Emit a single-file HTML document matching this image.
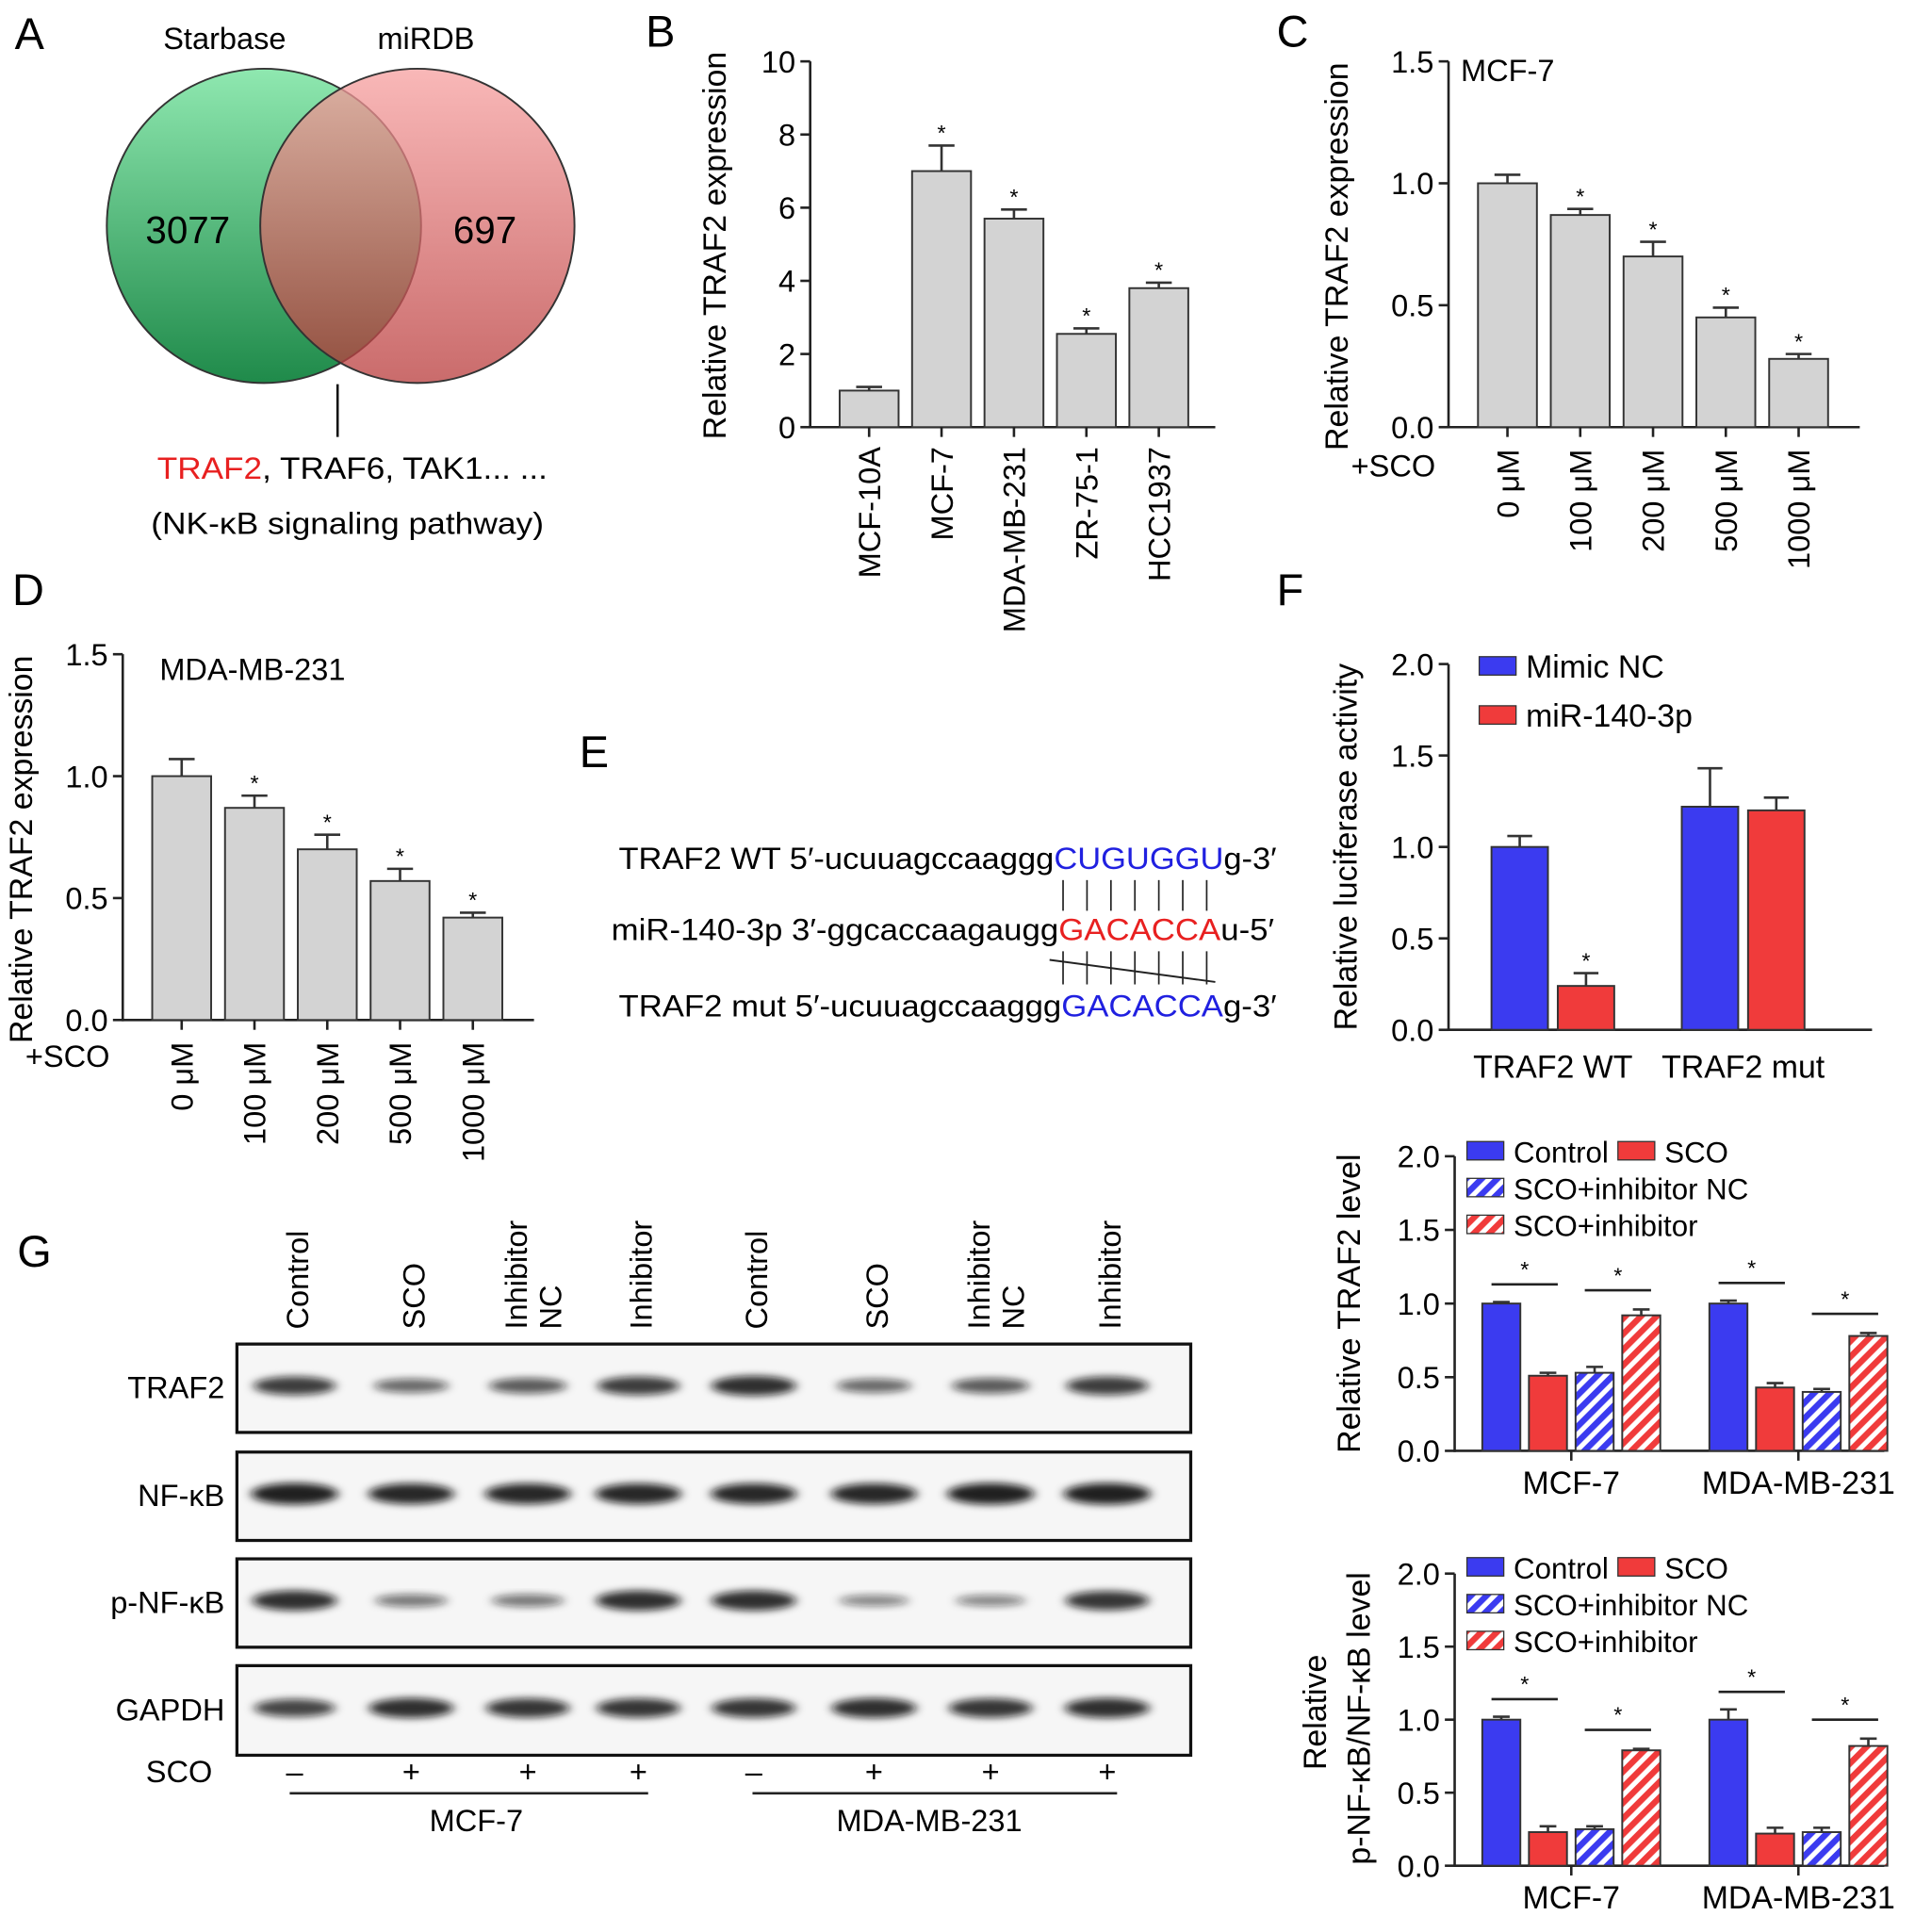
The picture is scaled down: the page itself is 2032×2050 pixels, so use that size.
<!DOCTYPE html>
<html><head><meta charset="utf-8"><style>
html,body{margin:0;padding:0;background:#fff;}
svg{display:block;font-family:"Liberation Sans",Arial,sans-serif;}
</style></head><body>
<svg id="fig" width="2032" height="2050" viewBox="0 0 1560 1574" preserveAspectRatio="none" xmlns="http://www.w3.org/2000/svg">
<defs>
<linearGradient id="gG" x1="0" y1="0" x2="0" y2="1"><stop offset="0" stop-color="#8fe8b0"/><stop offset="1" stop-color="#1f8a4a"/></linearGradient>
<linearGradient id="gR" x1="0" y1="0" x2="0" y2="1"><stop offset="0" stop-color="#f7a0a0"/><stop offset="1" stop-color="#b83a3a"/></linearGradient>
<pattern id="hB" width="9" height="9" patternUnits="userSpaceOnUse" patternTransform="rotate(45)"><rect width="9" height="9" fill="#fff"/><rect width="5" height="9" fill="#3b3bf0"/></pattern>
<pattern id="hR" width="9" height="9" patternUnits="userSpaceOnUse" patternTransform="rotate(45)"><rect width="9" height="9" fill="#fff"/><rect width="5" height="9" fill="#f03b3b"/></pattern>
<filter id="blur" x="-20%" y="-50%" width="140%" height="200%"><feGaussianBlur stdDeviation="4 3"/></filter>
</defs>

<g>
<text x="12" y="40" font-size="36">A</text>
<circle cx="215" cy="184" r="128" fill="url(#gG)" stroke="#333" stroke-width="1.5"/>
<circle cx="340" cy="184" r="128" fill="url(#gR)" fill-opacity="0.75" stroke="#333" stroke-width="1.5"/>
<text x="183" y="40" font-size="25" text-anchor="middle">Starbase</text>
<text x="347" y="40" font-size="25" text-anchor="middle">miRDB</text>
<text x="153" y="198" font-size="31" text-anchor="middle">3077</text>
<text x="395" y="198" font-size="31" text-anchor="middle">697</text>
<line x1="275" y1="313" x2="275" y2="356" stroke="#111" stroke-width="2"/>
<text x="128" y="390" font-size="25" textLength="318" lengthAdjust="spacingAndGlyphs"><tspan fill="#e82020">TRAF2</tspan>, TRAF6, TAK1... ...</text>
<text x="283" y="435" font-size="25" text-anchor="middle" textLength="320" lengthAdjust="spacingAndGlyphs">(NK-κB signaling pathway)</text>
</g>

<text x="526" y="38" font-size="36">B</text>
<g id="chartB"></g>
<text x="1040" y="38" font-size="36">C</text>
<g id="chartC"></g>
<text x="10" y="493" font-size="36">D</text>
<g id="chartD"></g>

<g>
<text x="472" y="625" font-size="36">E</text>
<text x="504" y="708" font-size="25" textLength="536" lengthAdjust="spacingAndGlyphs">TRAF2 WT 5′-ucuuagccaaggg<tspan fill="#2020e0">CUGUGGU</tspan>g-3′</text>
<text x="498" y="766" font-size="25" textLength="540" lengthAdjust="spacingAndGlyphs">miR-140-3p 3′-ggcaccaagaugg<tspan fill="#e82020">GACACCA</tspan>u-5′</text>
<text x="504" y="828" font-size="25" textLength="536" lengthAdjust="spacingAndGlyphs">TRAF2 mut 5′-ucuuagccaaggg<tspan fill="#2020e0">GACACCA</tspan>g-3′</text>
<g id="pairs" stroke="#222" stroke-width="1.3"></g>
<line x1="855" y1="782" x2="990" y2="800" stroke="#222" stroke-width="1.5"/>
</g>

<text x="1040" y="493" font-size="36">F</text>
<g id="chartF"></g>
<g id="chartG2"></g>
<g id="chartG3"></g>

<text x="14" y="1032" font-size="36">G</text>
<g id="blot"></g>

<script>
const NS="http://www.w3.org/2000/svg";
function mk(parent,tag,attrs,txt){const e=document.createElementNS(NS,tag);for(const k in attrs)e.setAttribute(k,attrs[k]);if(txt!==undefined)e.textContent=txt;parent.appendChild(e);return e;}

const bCats=["MCF-10A","MCF-7","MDA-MB-231","ZR-75-1","HCC1937"];
const bVals=[1.0,7.0,5.7,2.55,3.8];
const bErr=[0.1,0.7,0.25,0.15,0.15];
const bStar=[false,true,true,true,true];
const bTicks=[0,2,4,6,8,10];

const doseCats=["0 μM","100 μM","200 μM","500 μM","1000 μM"];
const cVals=[1.0,0.87,0.70,0.45,0.28];
const cErr=[0.035,0.025,0.06,0.04,0.02];
const dVals=[1.0,0.87,0.70,0.57,0.42];
const dErr=[0.07,0.05,0.06,0.05,0.02];
const doseStar=[false,true,true,true,true];
const doseTicks=[0,0.5,1.0,1.5];

const fGroups=["TRAF2 WT","TRAF2 mut"];
const fMimic=[1.0,1.22];
const fMimicErr=[0.06,0.21];
const fMir=[0.24,1.20];
const fMirErr=[0.07,0.07];
const lvlTicks=[0,0.5,1.0,1.5,2.0];

const gGroups=["MCF-7","MDA-MB-231"];
const g2Ctrl=[1.0,1.0],g2Sco=[0.51,0.43],g2Nc=[0.53,0.40],g2Inh=[0.92,0.78];
const g2CtrlE=[0.01,0.02],g2ScoE=[0.02,0.03],g2NcE=[0.04,0.02],g2InhE=[0.04,0.02];
const g3Ctrl=[1.0,1.0],g3Sco=[0.23,0.22],g3Nc=[0.25,0.23],g3Inh=[0.79,0.82];
const g3CtrlE=[0.02,0.07],g3ScoE=[0.04,0.04],g3NcE=[0.02,0.03],g3InhE=[0.01,0.05];

const blotLanes=["Control","SCO","Inhibitor NC","Inhibitor","Control","SCO","Inhibitor NC","Inhibitor"];
const blotRows=["TRAF2","NF-κB","p-NF-κB","GAPDH"];
const scoSigns=["–","+","+","+","–","+","+","+"];
const bandTRAF2=[0.75,0.45,0.55,0.75,0.85,0.45,0.55,0.75];
const bandNFKB=[0.95,0.9,0.9,0.9,0.9,0.9,0.95,0.95];
const bandPNFKB=[0.85,0.35,0.35,0.85,0.85,0.25,0.25,0.8];
const bandGAPDH=[0.7,0.85,0.8,0.8,0.8,0.85,0.8,0.85];

function yScale(y0,y1,vmax){return v=>y0-(v/vmax)*(y0-y1);}
function yAxis(g,x,y0,y1,vmax,ticks,fmt,fs){
  const sy=yScale(y0,y1,vmax);
  mk(g,"line",{x1:x,y1:y0+1,x2:x,y2:y1,stroke:"#222","stroke-width":2});
  ticks.forEach(t=>{const y=sy(t);
    mk(g,"line",{x1:x-8,y1:y,x2:x,y2:y,stroke:"#222","stroke-width":2});
    const tx=mk(g,"text",{x:x-12,y:y+9,"font-size":fs||25,"text-anchor":"end"},fmt(t));
    
    
  });
  return sy;
}
function bar(g,cx,w,v,err,sy,fill,star,name){
  const y=sy(v),y0=sy(0);
  const r=mk(g,"rect",{x:cx-w/2,y:y,width:w,height:y0-y,fill:fill,stroke:"#333","stroke-width":1.5});
  
  
  const ye=sy(v+err);
  mk(g,"line",{x1:cx,y1:y,x2:cx,y2:ye,stroke:"#333","stroke-width":2});
  mk(g,"line",{x1:cx-w*0.22,y1:ye,x2:cx+w*0.22,y2:ye,stroke:"#333","stroke-width":2});
  if(star){const s=mk(g,"text",{x:cx,y:ye-4,"font-size":18,"text-anchor":"middle"},"*");
    
    }
}
function ytitle(g,x,y,txt,fs){const t=mk(g,"text",{x:x,y:y,"font-size":fs||25,"text-anchor":"middle",transform:`rotate(-90 ${x} ${y})`},txt);
  
  }
function rotLabel(g,x,y,txt,anchor){const t=mk(g,"text",{x:x,y:y,"font-size":25,"text-anchor":anchor||"end",transform:`rotate(-90 ${x} ${y})`},txt);
  
  }

(function(){const g=document.getElementById("chartB");
  const ax=660,y0=348,y1=50;
  const sy=yAxis(g,ax,y0,y1,10,bTicks,t=>String(t));
  mk(g,"line",{x1:ax,y1:y0,x2:990,y2:y0,stroke:"#222","stroke-width":2});
  const step=59,x0=708;
  bCats.forEach((c,i)=>{const cx=x0+i*step;
    bar(g,cx,48,bVals[i],bErr[i],sy,"#d3d3d3",bStar[i],"bar-"+c.toLowerCase());
    mk(g,"line",{x1:cx,y1:y0,x2:cx,y2:y0+8,stroke:"#222","stroke-width":2});
    rotLabel(g,cx+9,y0+16,c);});
  ytitle(g,591,200,"Relative TRAF2 expression",26);
})();

function dosePanel(id,ax,y0,y1,vals,errs,title,tx,ty,sx,sy2,ytx){
  const g=document.getElementById(id);
  const sy=yAxis(g,ax,y0,y1,1.5,doseTicks,t=>t.toFixed(1));
  mk(g,"line",{x1:ax,y1:y0,x2:ax+335,y2:y0,stroke:"#222","stroke-width":2});
  const step=59.3,x0=ax+48;
  doseCats.forEach((c,i)=>{const cx=x0+i*step;
    bar(g,cx,48,vals[i],errs[i],sy,"#d3d3d3",doseStar[i],"bar-"+c.replace(" μM","uM"));
    mk(g,"line",{x1:cx,y1:y0,x2:cx,y2:y0+8,stroke:"#222","stroke-width":2});
    rotLabel(g,cx+9,y0+18,c);});
  const t1=mk(g,"text",{x:tx,y:ty,"font-size":25},title);
  
  
  const t2=mk(g,"text",{x:sx,y:sy2,"font-size":25,"text-anchor":"middle"},"+SCO");
  
  
  ytitle(g,ytx,(y0+y1)/2+10,"Relative TRAF2 expression",26);
}
dosePanel("chartC",1180,348,50,cVals,cErr,"MCF-7",1190,66,1135,388,1098);
dosePanel("chartD",100,831,533,dVals,dErr,"MDA-MB-231",130,554,55,869,26);

(function(){const g=document.getElementById("pairs");
  for(let i=0;i<7;i++){const x=866+i*19.5;
    mk(g,"line",{x1:x,y1:717,x2:x,y2:742});
    mk(g,"line",{x1:x,y1:775,x2:x,y2:802});}
})();

function legendBox(g,x,y,fill,label,fs){
  mk(g,"rect",{x:x,y:y-10,width:30,height:15,fill:fill,stroke:"#333","stroke-width":1});
  const t=mk(g,"text",{x:x+38,y:y+7,"font-size":fs||23},label);
  
  
}

(function(){const g=document.getElementById("chartF");
  const ax=1180,y0=839,y1=541;
  const sy=yAxis(g,ax,y0,y1,2.0,lvlTicks,t=>t.toFixed(1));
  mk(g,"line",{x1:ax,y1:y0,x2:1525,y2:y0,stroke:"#222","stroke-width":2});
  const gx=[1265,1420];
  fGroups.forEach((c,i)=>{
    bar(g,gx[i]-27,46,fMimic[i],fMimicErr[i],sy,"#3b3bf0",false,"bar-mimic-nc-"+i);
    bar(g,gx[i]+27,46,fMir[i],fMirErr[i],sy,"#f03b3b",i===0,"bar-mir-140-3p-"+i);
    const t=mk(g,"text",{x:gx[i],y:y0+39,"font-size":26,"text-anchor":"middle"},c);
    
    
  });
  legendBox(g,1205,545,"#3b3bf0","Mimic NC",26);
  legendBox(g,1205,585,"#f03b3b","miR-140-3p",26);
  ytitle(g,1105,690,"Relative luciferase activity",26);
})();

function quantPanel(id,y0,y1,ctrl,sco,nc,inh,ctrlE,scoE,ncE,inhE,legY,titleFn){
  const g=document.getElementById(id);
  const ax=1185;
  const sy=yAxis(g,ax,y0,y1,2.0,lvlTicks,t=>t.toFixed(1));
  mk(g,"line",{x1:ax,y1:y0,x2:1535,y2:y0,stroke:"#222","stroke-width":2});
  const gx=[1280,1465],w=31,off=[-57,-19,19,57];
  gGroups.forEach((c,i)=>{
    bar(g,gx[i]+off[0],w,ctrl[i],ctrlE[i],sy,"#3b3bf0",false,"bar-control-"+i);
    bar(g,gx[i]+off[1],w,sco[i],scoE[i],sy,"#f03b3b",false,"bar-sco-"+i);
    bar(g,gx[i]+off[2],w,nc[i],ncE[i],sy,"url(#hB)",false,"bar-sco-inhibitor-nc-"+i);
    bar(g,gx[i]+off[3],w,inh[i],inhE[i],sy,"url(#hR)",false,"bar-sco-inhibitor-"+i);
    const b1=sy(Math.max(ctrl[i]+ctrlE[i],sco[i])+0.12);
    mk(g,"line",{x1:gx[i]+off[0]-8,y1:b1,x2:gx[i]+off[1]+8,y2:b1,stroke:"#222","stroke-width":2});
    mk(g,"text",{x:gx[i]-38,y:b1-6,"font-size":18,"text-anchor":"middle"},"*");
    const b2=sy(inh[i]+inhE[i]+0.13);
    mk(g,"line",{x1:gx[i]+off[2]-8,y1:b2,x2:gx[i]+off[3]+8,y2:b2,stroke:"#222","stroke-width":2});
    mk(g,"text",{x:gx[i]+38,y:b2-6,"font-size":18,"text-anchor":"middle"},"*");
    mk(g,"line",{x1:gx[i],y1:y0,x2:gx[i],y2:y0+8,stroke:"#222","stroke-width":2});
    const t=mk(g,"text",{x:gx[i],y:y0+35,"font-size":26,"text-anchor":"middle"},c);
    
    
  });
  legendBox(g,1195,legY,"#3b3bf0","Control",24);
  legendBox(g,1318,legY,"#f03b3b","SCO",24);
  legendBox(g,1195,legY+30,"url(#hB)","SCO+inhibitor NC",24);
  legendBox(g,1195,legY+60,"url(#hR)","SCO+inhibitor",24);
  titleFn(g);
}
quantPanel("chartG2",1182,942,g2Ctrl,g2Sco,g2Nc,g2Inh,g2CtrlE,g2ScoE,g2NcE,g2InhE,940,g=>ytitle(g,1108,1062,"Relative TRAF2 level",26));
quantPanel("chartG3",1520,1282,g3Ctrl,g3Sco,g3Nc,g3Inh,g3CtrlE,g3ScoE,g3NcE,g3InhE,1279,g=>{ytitle(g,1080,1395,"Relative",26);ytitle(g,1116,1400,"p-NF-κB/NF-κB level",26);});

(function(){const g=document.getElementById("blot");
  const lx=[243,338,433,523,617,715,810,905];
  const rowsY=[[1095,1167],[1183,1255],[1270,1342],[1357,1430]];
  const bands=[bandTRAF2,bandNFKB,bandPNFKB,bandGAPDH];
  blotLanes.forEach((l,i)=>{
    const parts=l.split(" ");
    if(parts.length===2){rotLabel(g,lx[i]-4,1083,parts[0],"start");rotLabel(g,lx[i]+24,1083,parts[1],"start");}
    else rotLabel(g,lx[i]+8,1083,l,"start");
  });
  rowsY.forEach((r,ri)=>{
    const box=mk(g,"rect",{x:193,y:r[0],width:777,height:r[1]-r[0],fill:"#f6f6f6",stroke:"#111","stroke-width":2.5});
    
    
    const t=mk(g,"text",{x:183,y:(r[0]+r[1])/2+8,"font-size":25,"text-anchor":"end"},blotRows[ri]);
    
    
    const cy=(r[0]+r[1])/2-2;
    bands[ri].forEach((v,i)=>{
      const e=mk(g,"ellipse",{cx:lx[i]-3,cy:cy,rx:26+v*10,ry:3+v*6,fill:"#111","fill-opacity":0.35+0.6*v,filter:"url(#blur)"});
      
      
    });
  });
  scoSigns.forEach((s,i)=>{const t=mk(g,"text",{x:lx[i]-3,y:1452,"font-size":25,"text-anchor":"middle"},s);
    
    });
  const sl=mk(g,"text",{x:173,y:1452,"font-size":25,"text-anchor":"end"},"SCO");
  
  
  mk(g,"line",{x1:236,y1:1461,x2:528,y2:1461,stroke:"#222","stroke-width":2});
  mk(g,"line",{x1:613,y1:1461,x2:910,y2:1461,stroke:"#222","stroke-width":2});
  const m1=mk(g,"text",{x:388,y:1492,"font-size":25,"text-anchor":"middle"},"MCF-7");
  
  
  const m2=mk(g,"text",{x:757,y:1492,"font-size":25,"text-anchor":"middle"},"MDA-MB-231");
  
  
})();
</script>
</svg>
</body></html>
